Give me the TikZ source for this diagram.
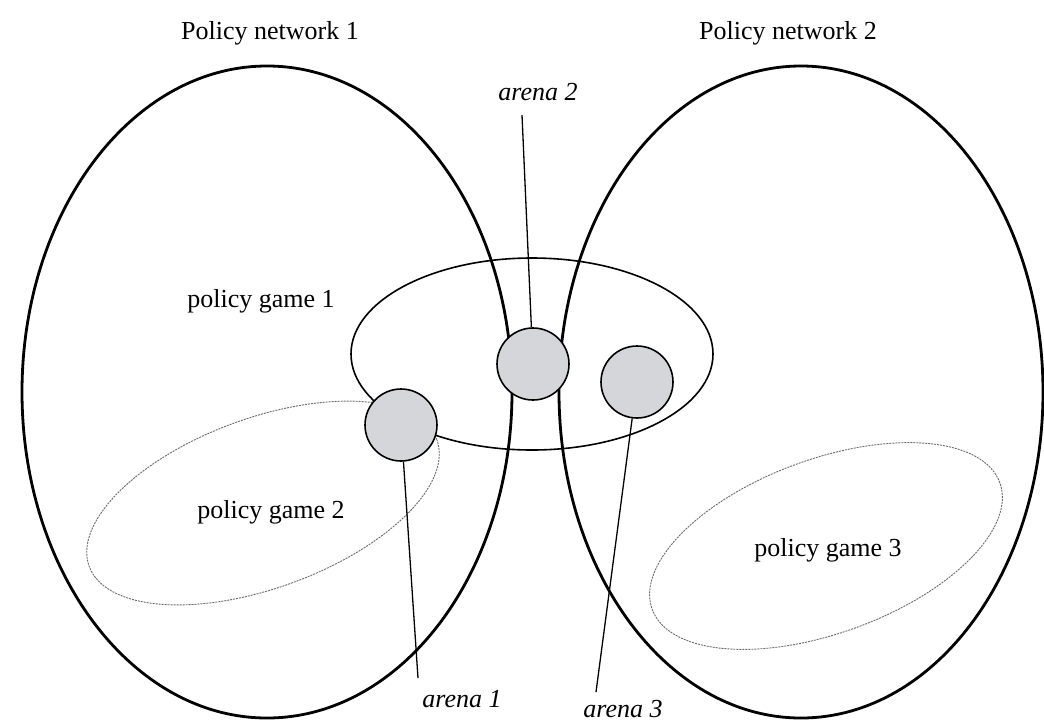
\documentclass[tikz,border=0pt]{standalone}
\usepackage{fontspec}
\setmainfont{Liberation Serif}
\definecolor{arenafill}{RGB}{212,214,217}
\definecolor{gameline}{RGB}{105,105,105}
\begin{document}
\begin{tikzpicture}[x=1pt,y=-1pt,
  network/.style={line width=2.8pt},
  gameone/.style={line width=1.6pt},
  gameloose/.style={line width=0.9pt, gameline, dash pattern=on 2pt off 1pt},
  arena/.style={circle, draw, line width=1.6pt, fill=arenafill, minimum size=72pt, inner sep=0pt},
  leader/.style={line width=1.3pt},
  lbl/.style={font=\fontsize{26}{30}\selectfont, inner sep=0pt},
  albl/.style={font=\fontsize{26}{30}\selectfont\itshape, inner sep=0pt}]
\useasboundingbox (0,0) rectangle (1044,724);

% the two policy networks
\draw[network] (267,392) ellipse [x radius=245pt, y radius=326pt];
\draw[network] (801,392) ellipse [x radius=242pt, y radius=326pt];

% policy games
\draw[gameone] (532,354) ellipse [x radius=181pt, y radius=96pt];
\draw[gameloose, rotate around={20:(263,503)}] (263,503) ellipse [x radius=185pt, y radius=85pt];
\draw[gameloose, rotate around={20:(826,546)}] (826,546) ellipse [x radius=185pt, y radius=87pt];

% titles and game labels
\node[lbl] (pn1) at (270,33) {Policy network 1};
\node[lbl] (pn2) at (788,33) {Policy network 2};
\node[lbl] (pg1) at (261,301) {policy game 1};
\node[lbl] (pg2) at (271,512) {policy game 2};
\node[lbl] (pg3) at (828,550) {policy game 3};

% arenas
\node[arena] (c1) at (401,425) {};
\node[arena] (c2) at (533,364) {};
\node[arena] (c3) at (637,382) {};

\node[albl] (a1) at (462,699) {arena 1};
\node[albl] (a2) at (538,92) {arena 2};
\node[albl] (a3) at (623,709) {arena 3};

\coordinate (t1) at (418,678);
\coordinate (t2) at (522,115);
\coordinate (t3) at (596,692);
\draw[leader] (t1) -- (c1);
\draw[leader] (t2) -- (c2);
\draw[leader] (t3) -- (c3);
\end{tikzpicture}
\end{document}
